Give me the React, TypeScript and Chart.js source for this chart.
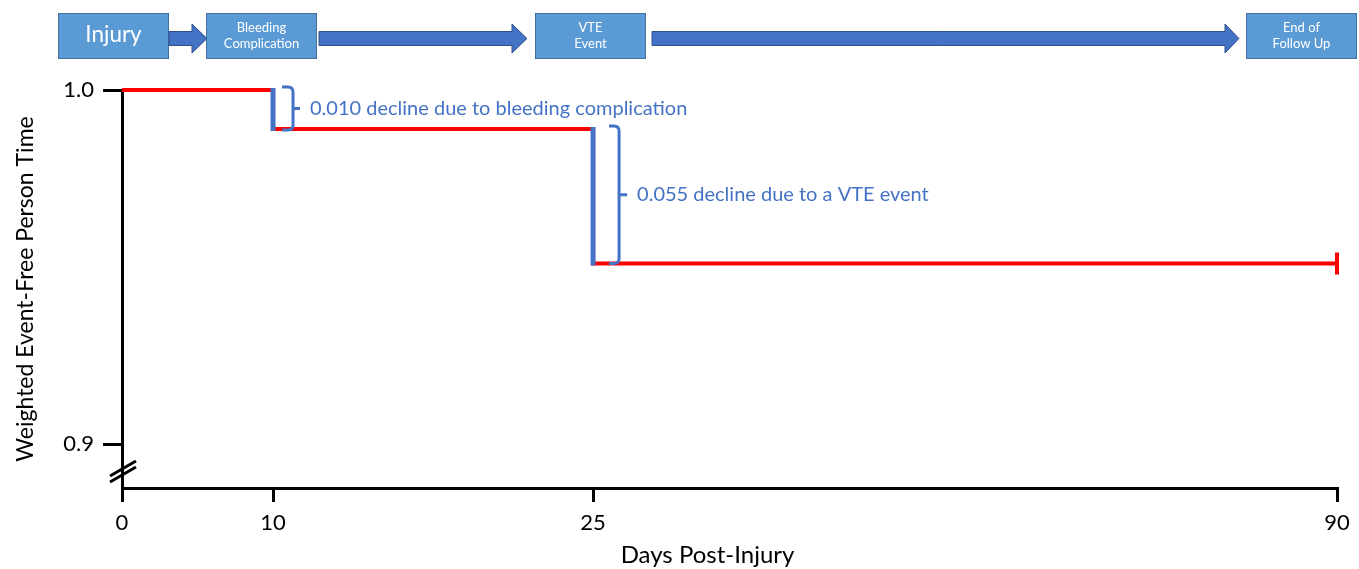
import React, { useEffect, useRef } from 'react';
import { Chart, LinearScale, registerables } from 'chart.js';

// ---------- data ----------
const DAYS = [0, 10, 25, 90];
const WEIGHTED_EFPT = [1.0, 0.989, 0.951, 0.951];
const X_TICKS = [0, 10, 25, 90];
const X_TICK_LABELS = ['0', '10', '25', '90'];
const Y_TICKS = [0.9, 1.0];
const Y_TICK_LABELS = ['0.9', '1.0'];
const X_TITLE = 'Days Post-Injury';
const Y_TITLE = 'Weighted Event-Free Person Time';
const EVENT_DAYS = [10, 25];
const DECLINE_LABELS = [
  '0.010 decline due to bleeding complication',
  '0.055 decline due to a VTE event',
];
const FLOW_LABELS = [['Injury'], ['Bleeding', 'Complication'], ['VTE', 'Event'], ['End of', 'Follow Up']];

// ---------- axis layout (schematic, non-proportional day axis) ----------
const X_BREAKPOINTS = [0, 10, 25, 90];
const X_BREAK_FRACTIONS = [0, 0.1243, 0.3877, 1];

function dayToFraction(v: number): number {
  const b = X_BREAKPOINTS;
  const f = X_BREAK_FRACTIONS;
  for (let i = 1; i < b.length; i++) {
    if (v <= b[i] || i === b.length - 1) {
      return f[i - 1] + ((v - b[i - 1]) * (f[i] - f[i - 1])) / (b[i] - b[i - 1]);
    }
  }
  return 0;
}
function fractionToDay(d: number): number {
  const b = X_BREAKPOINTS;
  const f = X_BREAK_FRACTIONS;
  for (let i = 1; i < f.length; i++) {
    if (d <= f[i] || i === f.length - 1) {
      return b[i - 1] + ((d - f[i - 1]) * (b[i] - b[i - 1])) / (f[i] - f[i - 1]);
    }
  }
  return 0;
}

class BrokenDayScale extends LinearScale {
  static id = 'brokenDay';
  static defaults = LinearScale.defaults;
  getPixelForValue(value: number) {
    return (this as any).getPixelForDecimal(dayToFraction(value));
  }
  getValueForPixel(pixel: number) {
    return fractionToDay((this as any).getDecimalForPixel(pixel));
  }
}

Chart.register(...registerables, BrokenDayScale as any);

const FONT = "Lato, 'Open Sans', sans-serif";
const BLUE = '#4472c4';

// ---------- styling/layout of overlay elements ----------
const BRACKET_LAYOUT = [
  { x0: 9, x1: 20, nub: 7, topPad: 3, botPad: 1 },
  { x0: 16, x1: 26, nub: 8, topPad: 3, botPad: 0 },
];
const FLOW_BOX_X = [58, 206, 535, 1246];
const FLOW_ARROWS = [
  [169, 192, 207],
  [319, 512, 527],
  [652, 1225, 1239],
];

function drawBracket(ctx: CanvasRenderingContext2D, x0: number, x1: number, yTop: number, yBot: number, nub: number) {
  const r = 5;
  const yMid = (yTop + yBot) / 2;
  ctx.beginPath();
  ctx.moveTo(x0, yTop);
  ctx.lineTo(x1 - r, yTop);
  ctx.quadraticCurveTo(x1, yTop, x1, yTop + r);
  ctx.lineTo(x1, yBot - r);
  ctx.quadraticCurveTo(x1, yBot, x1 - r, yBot);
  ctx.lineTo(x0, yBot);
  ctx.moveTo(x1, yMid);
  ctx.lineTo(x1 + nub, yMid);
  ctx.stroke();
}

const overlayPlugin = {
  id: 'overlay',
  afterDraw(chart: any) {
    const ctx: CanvasRenderingContext2D = chart.ctx;
    const xs = chart.scales.x;
    const ys = chart.scales.y;
    const area = chart.chartArea;
    ctx.save();

    // blue vertical drops at events
    ctx.strokeStyle = BLUE;
    ctx.lineWidth = 5;
    EVENT_DAYS.forEach((day) => {
      const idx = DAYS.indexOf(day);
      const x = xs.getPixelForValue(day);
      ctx.beginPath();
      ctx.moveTo(x, ys.getPixelForValue(WEIGHTED_EFPT[idx - 1]) - 2);
      ctx.lineTo(x, ys.getPixelForValue(WEIGHTED_EFPT[idx]) + 2);
      ctx.stroke();
    });

    // brackets and labels
    ctx.lineWidth = 3;
    ctx.font = `20px ${FONT}`;
    ctx.fillStyle = BLUE;
    ctx.textBaseline = 'middle';
    ctx.textAlign = 'left';
    EVENT_DAYS.forEach((day, i) => {
      const idx = DAYS.indexOf(day);
      const L = BRACKET_LAYOUT[i];
      const xp = xs.getPixelForValue(day);
      const yTop = ys.getPixelForValue(WEIGHTED_EFPT[idx - 1]) - L.topPad;
      const yBot = ys.getPixelForValue(WEIGHTED_EFPT[idx]) + L.botPad;
      drawBracket(ctx, xp + L.x0, xp + L.x1, yTop, yBot, L.nub);
      ctx.fillText(DECLINE_LABELS[i], xp + L.x1 + L.nub + 10, (yTop + yBot) / 2);
    });

    // axis break marks
    ctx.strokeStyle = '#000';
    ctx.lineWidth = 3;
    const bx = area.left;
    const by = area.bottom - 16;
    [-3, 3].forEach((off) => {
      ctx.beginPath();
      ctx.moveTo(bx - 12, by + off + 7);
      ctx.lineTo(bx + 14, by + off - 8);
      ctx.stroke();
    });

    // x axis title
    ctx.fillStyle = '#000';
    ctx.font = `24px ${FONT}`;
    ctx.textAlign = 'center';
    ctx.textBaseline = 'middle';
    ctx.fillText(X_TITLE, (area.left + area.right) / 2 - 22, 555);

    // flow diagram
    FLOW_LABELS.forEach((lines, i) => {
      const x = FLOW_BOX_X[i];
      const w = 111;
      const y = 13;
      const h = 46;
      ctx.fillStyle = '#5b9bd5';
      ctx.fillRect(x, y, w, h);
      ctx.strokeStyle = '#41719c';
      ctx.lineWidth = 1;
      ctx.strokeRect(x + 0.5, y + 0.5, w - 1, h - 1);
      ctx.fillStyle = '#ffffff';
      ctx.textAlign = 'center';
      ctx.textBaseline = 'middle';
      if (lines.length === 1) {
        ctx.font = `22.5px ${FONT}`;
        ctx.fillText(lines[0], x + w / 2, y + h / 2 - 1);
      } else {
        ctx.font = `13px ${FONT}`;
        ctx.fillText(lines[0], x + w / 2, y + h / 2 - 8);
        ctx.fillText(lines[1], x + w / 2, y + h / 2 + 8);
      }
    });
    FLOW_ARROWS.forEach(([x0, xh, xt]) => {
      const cy = 38.5;
      ctx.beginPath();
      ctx.moveTo(x0, cy - 7);
      ctx.lineTo(xh, cy - 7);
      ctx.lineTo(xh, cy - 14.5);
      ctx.lineTo(xt, cy);
      ctx.lineTo(xh, cy + 14.5);
      ctx.lineTo(xh, cy + 7);
      ctx.lineTo(x0, cy + 7);
      ctx.closePath();
      ctx.fillStyle = BLUE;
      ctx.fill();
      ctx.strokeStyle = '#2f528f';
      ctx.lineWidth = 1;
      ctx.stroke();
    });

    ctx.restore();
  },
};

export default function App() {
  const ref = useRef<HTMLCanvasElement | null>(null);
  useEffect(() => {
    if (!ref.current) return;
    Chart.defaults.font.family = FONT;
    const chart = new Chart(ref.current, {
      type: 'line',
      data: {
        datasets: [
          {
            data: DAYS.map((d, i) => ({ x: d, y: WEIGHTED_EFPT[i] })),
            borderColor: '#ff0000',
            borderWidth: 4,
            stepped: 'before',
            fill: false,
            pointStyle: 'line',
            pointRotation: 90,
            pointRadius: (c: any) => (c.dataIndex === DAYS.length - 1 ? 11 : 0),
            pointHoverRadius: (c: any) => (c.dataIndex === DAYS.length - 1 ? 11 : 0),
            pointBorderColor: '#ff0000',
            pointBorderWidth: 4,
            clip: false as any,
          } as any,
        ],
      },
      options: {
        animation: false,
        responsive: false,
        events: [],
        layout: { padding: { top: 90, right: 22, bottom: 0, left: 0 } },
        plugins: { legend: { display: false }, tooltip: { enabled: false } },
        scales: {
          x: {
            type: 'brokenDay' as any,
            min: 0,
            max: 90,
            afterBuildTicks: (s: any) => {
              s.ticks = X_TICKS.map((v) => ({ value: v }));
            },
            afterFit: (s: any) => {
              s.height = 81;
            },
            ticks: {
              callback: (_v: any, i: number) => X_TICK_LABELS[i],
              font: { size: 22 },
              color: '#000',
              padding: 8,
              maxRotation: 0,
              autoSkip: false,
            },
            grid: { display: true, drawOnChartArea: false, drawTicks: true, tickLength: 14, color: '#000', lineWidth: 3 },
            border: { display: true, color: '#000', width: 3 },
          },
          y: {
            type: 'linear',
            min: 0.8876,
            max: 1.0,
            afterBuildTicks: (s: any) => {
              s.ticks = Y_TICKS.map((v) => ({ value: v }));
            },
            afterFit: (s: any) => {
              s.width = 122;
            },
            ticks: {
              callback: (_v: any, i: number) => Y_TICK_LABELS[i],
              font: { size: 22 },
              color: '#000',
              padding: 9,
            },
            grid: { display: true, drawOnChartArea: false, drawTicks: true, tickLength: 19, color: '#000', lineWidth: 3 },
            border: { display: true, color: '#000', width: 3 },
            title: {
              display: true,
              text: Y_TITLE,
              font: { size: 23 },
              color: '#000',
              padding: { top: 12, bottom: 0 },
            },
          },
        },
      } as any,
      plugins: [overlayPlugin],
    });
    return () => chart.destroy();
  }, []);
  return (
    <div style={{ position: 'fixed', left: 0, top: 0, width: 1359, height: 569, background: '#fff' }}>
      <canvas ref={ref} width={1359} height={569} style={{ width: 1359, height: 569, display: 'block' }} />
    </div>
  );
}
